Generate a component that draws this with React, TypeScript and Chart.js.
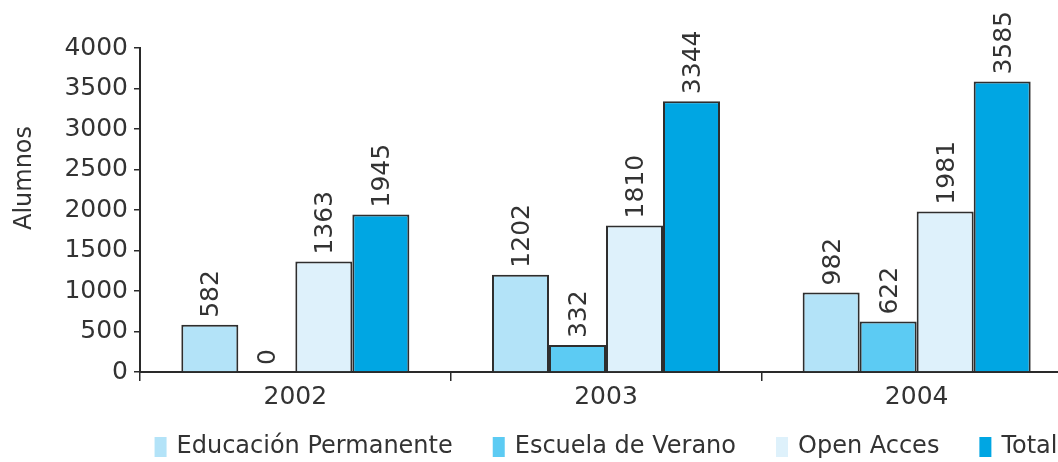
import React, { useEffect, useRef } from "react";
import { Chart, registerables } from "chart.js";

Chart.register(...registerables);

const years = ["2002", "2003", "2004"];
const educacionPermanente = [582, 1202, 982];
const escuelaDeVerano = [0, 332, 622];
const openAcces = [1363, 1810, 1981];
const total = [1945, 3344, 3585];
const seriesLabels = ["Educación Permanente", "Escuela de Verano", "Open Acces", "Total"];
const seriesColors = ["#b3e3f8", "#5ccbf3", "#def1fb", "#00a6e3"];
const yAxisTitle = "Alumnos";

const FONT = "'DejaVu Sans', sans-serif";
const WEIGHT = "normal";
const TEXT = "#333333";

const valueLabelPlugin = {
  id: "valueLabels",
  afterDatasetsDraw(chart: any) {
    const ctx = chart.ctx;
    ctx.save();
    ctx.font = `${WEIGHT} 25px ${FONT}`;
    ctx.fillStyle = TEXT;
    ctx.textAlign = "left";
    ctx.textBaseline = "middle";
    chart.data.datasets.forEach((ds: any, di: number) => {
      const meta = chart.getDatasetMeta(di);
      meta.data.forEach((bar: any, i: number) => {
        const v = ds.data[i];
        ctx.save();
        ctx.translate(bar.x + 2, bar.y - 7);
        ctx.rotate(-Math.PI / 2);
        ctx.fillText(String(v), 0, 0);
        ctx.restore();
      });
    });
    ctx.restore();
  },
};

const titleAndLegendPlugin = {
  id: "titleAndLegend",
  afterDraw(chart: any) {
    const ctx = chart.ctx;
    const area = chart.chartArea;
    ctx.save();
    ctx.font = `${WEIGHT} 24px ${FONT}`;
    ctx.fillStyle = TEXT;
    ctx.textAlign = "center";
    ctx.textBaseline = "middle";
    ctx.save();
    ctx.translate(25, 178);
    ctx.rotate(-Math.PI / 2);
    ctx.fillText(yAxisTitle, 0, 0);
    ctx.restore();

    // legend
    ctx.font = `${WEIGHT} 24px ${FONT}`;
    const boxW = 12;
    const boxH = 20;
    const gap = 10;
    const spacing = 40;
    const widths = chart.data.datasets.map((ds: any) => ctx.measureText(ds.label).width);
    const totalW =
      widths.reduce((a: number, b: number) => a + b, 0) +
      chart.data.datasets.length * (boxW + gap) +
      (chart.data.datasets.length - 1) * spacing;
    let x = (area.left + area.right) / 2 - totalW / 2;
    const cy = 447;
    ctx.textAlign = "left";
    chart.data.datasets.forEach((ds: any, i: number) => {
      ctx.fillStyle = ds.backgroundColor;
      ctx.fillRect(x, cy - boxH / 2, boxW, boxH);
      x += boxW + gap;
      ctx.fillStyle = TEXT;
      ctx.fillText(ds.label, x, cy);
      x += widths[i] + spacing;
    });
    ctx.restore();
  },
};

export default function App() {
  const canvasRef = useRef<HTMLCanvasElement | null>(null);

  useEffect(() => {
    document.body.style.overflow = "hidden";
    const canvas = canvasRef.current;
    if (!canvas) return;
    const seriesData = [educacionPermanente, escuelaDeVerano, openAcces, total];
    const chart = new Chart(canvas, {
      type: "bar",
      data: {
        labels: years,
        datasets: seriesLabels.map((label, i) => ({
          label,
          data: seriesData[i],
          backgroundColor: seriesColors[i],
          borderColor: "#2e2e2e",
          borderWidth: 2,
          categoryPercentage: 0.734,
          barPercentage: 1.0,
        })),
      },
      options: {
        responsive: false,
        animation: false,
        layout: { padding: { top: 48, left: 0, right: 8, bottom: 50 } },
        plugins: {
          legend: { display: false },
          tooltip: { enabled: false },
        },
        scales: {
          x: {
            afterFit(scale: any) {
              scale.height = 40;
            },
            border: { display: true, color: "#2a2a2a", width: 2 },
            grid: {
              offset: true,
              drawOnChartArea: false,
              drawTicks: true,
              tickLength: 9,
              color: "#2a2a2a",
              lineWidth: 1.5,
            },
            ticks: {
              font: { family: FONT, size: 25, weight: WEIGHT as any },
              color: TEXT,
              padding: 1,
            },
          },
          y: {
            min: 0,
            max: 4000,
            afterFit(scale: any) {
              scale.width = 140;
            },
            border: { display: true, color: "#2a2a2a", width: 2 },
            grid: {
              drawOnChartArea: false,
              drawTicks: true,
              tickLength: 6,
              color: "#2a2a2a",
              lineWidth: 1.5,
            },
            ticks: {
              stepSize: 500,
              callback: (v: any) => String(v),
              font: { family: FONT, size: 25, weight: WEIGHT as any },
              color: TEXT,
              padding: 6,
            },
          },
        },
      },
      plugins: [valueLabelPlugin, titleAndLegendPlugin],
    });
    return () => chart.destroy();
  }, []);

  return (
    <div
      style={{
        position: "fixed",
        left: 0,
        top: 0,
        width: 1058,
        height: 462,
        overflow: "hidden",
        background: "#fff",
      }}
    >
      <canvas ref={canvasRef} width={1080} height={462} style={{ width: 1080, height: 462 }} />
    </div>
  );
}
